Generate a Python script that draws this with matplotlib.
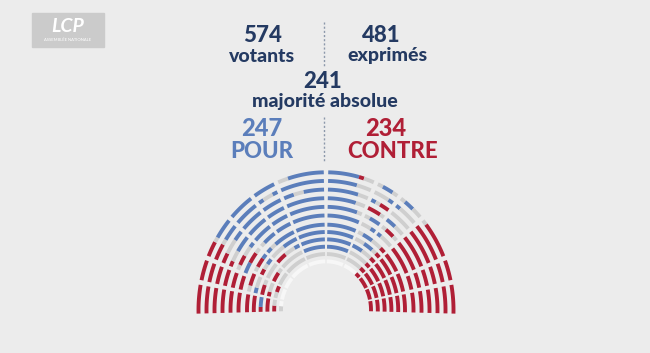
import numpy as np
import matplotlib
matplotlib.use("Agg")
import matplotlib.pyplot as plt
from matplotlib.collections import LineCollection
from matplotlib.patches import Rectangle

# vote figures
votants = 574
exprimes = 481
majorite = 241
pour = 247
contre = 234
total_seats = 577

# colours
col = {"B": "#5b7ebb", "R": "#b01f36", "G": "#cfcfcf", "W": "#f7f7f7"}
navy = "#243a62"
bg = "#ececec"

# left half sectors (angle from the left, degrees); right half is the mirror
inner_half = [(-1.5, 10.5), (12.5, 25), (27, 40.5), (42.5, 66), (68, 89)]
outer_half = [(-1.5, 10.5), (12.5, 21), (23, 40.5), (42.5, 54), (56, 66), (68, 89)]
inner_sectors = inner_half + [(180 - b, 180 - a) for a, b in inner_half[::-1]]
outer_sectors = outer_half + [(180 - b, 180 - a) for a, b in outer_half[::-1]]

# colour runs per row, inner -> outer : (end angle, colour)
runs = [
    [(4, "G"), (131, "W"), (182, "R")],
    [(5, "R"), (131, "G"), (182, "R")],
    [(8, "R"), (65, "G"), (110, "B"), (132, "G"), (182, "R")],
    [(10, "R"), (60, "G"), (112, "B"), (133, "G"), (182, "R")],
    [(10, "R"), (55, "G"), (115, "B"), (134, "G"), (182, "R")],
    [(12, "R"), (50, "G"), (115, "B"), (135, "G"), (182, "R")],
    [(22, "R"), (46, "G"), (112, "B"), (137, "G"), (182, "R")],
    [(24, "R"), (42, "G"), (110, "B"), (138, "G"), (182, "R")],
    [(27, "R"), (38, "G"), (108, "B"), (139, "G"), (182, "R")],
    [(29, "R"), (35, "G"), (107, "B"), (139, "G"), (182, "R")],
    [(30, "R"), (33, "G"), (106, "B"), (140, "G"), (182, "R")],
    [(29, "R"), (31, "G"), (105, "B"), (106.5, "R"), (141, "G"), (182, "R")],
]

# isolated seats (row, angle, colour)
strays = [
    (5, 20, "R"), (4, 28, "R"), (3, 18, "R"), (5, 35, "R"), (4, 40, "B"), (3, 45, "R"),
    (2, 30, "R"), (2, 12, "R"), (1, 22, "R"), (3, 8, "B"), (5, 42, "B"), (4, 14, "B"),
    (7, 30, "R"), (6, 35, "R"), (8, 34, "B"), (6, 28, "B"), (7, 40, "B"),
    (11, 70, "G"), (10, 60, "G"), (9, 75, "G"),
    (11, 118, "B"), (11, 130, "B"), (10, 125, "B"), (9, 115, "B"), (8, 128, "B"),
    (7, 120, "B"), (6, 125, "B"), (9, 122, "R"), (5, 122, "B"), (4, 126, "B"),
    (3, 120, "B"), (7, 132, "R"), (8, 118, "R"),
]

# geometry (pixels)
cx, cy, sy = 326, 310, 1.08
radii = [45, 51.8, 58.6, 65.4, 72.2, 79, 87.5, 95.5, 103.5, 111.5, 119.5, 127.5]


def seat_colour(row, ang):
    for r, a, c in strays:
        if r == row and abs(a - ang) < 2.5 * 120 / radii[row]:
            return c
    for end, c in runs[row]:
        if ang <= end:
            return c
    return runs[row][-1][1]


# seats per segment proportional to arc length, scaled to the total
segs = []
for i, r in enumerate(radii):
    for a0, a1 in (inner_sectors if i < 6 else outer_sectors):
        segs.append((i, r, a0, a1, r * np.radians(a1 - a0)))
lengths = np.array([s[4] for s in segs])
counts = np.maximum(1, np.round(lengths / lengths.sum() * total_seats)).astype(int)

lines, colors = [], []
for (i, r, a0, a1, L), n in zip(segs, counts):
    step = (a1 - a0) / n
    # seat colours along the segment, then merged into runs of one colour
    sc = [seat_colour(i, a0 + (k + 0.5) * step) for k in range(n)]
    k = 0
    while k < n:
        j = k
        while j + 1 < n and sc[j + 1] == sc[k]:
            j += 1
        t = np.radians(180 - np.linspace(a0 + k * step, a0 + (j + 1) * step, 20))
        xs = cx + r * np.cos(t)
        ys = cy - sy * r * np.sin(t)
        lines.append(np.column_stack([xs, ys]))
        colors.append(col[sc[k]])
        k = j + 1

fig = plt.figure(figsize=(6.5, 3.53), dpi=100)
fig.patch.set_facecolor(bg)
ax = fig.add_axes([0, 0, 1, 1])
ax.set_facecolor(bg)
ax.set_xlim(0, 650)
ax.set_ylim(353, 0)
ax.axis("off")

ax.add_collection(LineCollection(lines, colors=colors, linewidths=2.8, capstyle="butt"))

plt.rcParams["font.family"] = ["Lato", "DejaVu Sans"]
fw = "black"
ax.text(262.5, 36, str(votants), ha="center", va="center", fontsize=16, color=navy, weight=fw)
ax.text(262, 56, "votants", ha="center", va="center", fontsize=14, color=navy, weight=fw)
ax.text(381, 36, str(exprimes), ha="center", va="center", fontsize=16, color=navy, weight=fw)
ax.text(387, 56, "exprimés", ha="center", va="center", fontsize=14, color=navy, weight=fw)
ax.text(323, 82, str(majorite), ha="center", va="center", fontsize=16, color=navy, weight=fw)
ax.text(325, 102, "majorité absolue", ha="center", va="center", fontsize=14, color=navy, weight=fw)
ax.text(262, 129, str(pour), ha="center", va="center", fontsize=17, color=col["B"], weight=fw)
ax.text(262, 151, "POUR", ha="center", va="center", fontsize=16, color=col["B"], weight=fw)
ax.text(386, 129, str(contre), ha="center", va="center", fontsize=17, color=col["R"], weight=fw)
ax.text(393, 151, "CONTRE", ha="center", va="center", fontsize=16, color=col["R"], weight=fw)

ax.plot([323.5, 323.5], [22, 66], color="#8c98aa", lw=1, ls=(0, (1.5, 1.5)))
ax.plot([323.5, 323.5], [117, 161], color="#8c98aa", lw=1, ls=(0, (1.5, 1.5)))

# channel logo
ax.add_patch(Rectangle((32, 13), 72, 34, color="#cbcbcb"))
ax.text(68, 26, "LCP", ha="center", va="center", fontsize=14, color="white",
        weight="bold", style="italic")
ax.text(68, 40, "ASSEMBLÉE NATIONALE", ha="center", va="center", fontsize=3, color="white")

fig.savefig("out.png", dpi=100, facecolor=bg)
